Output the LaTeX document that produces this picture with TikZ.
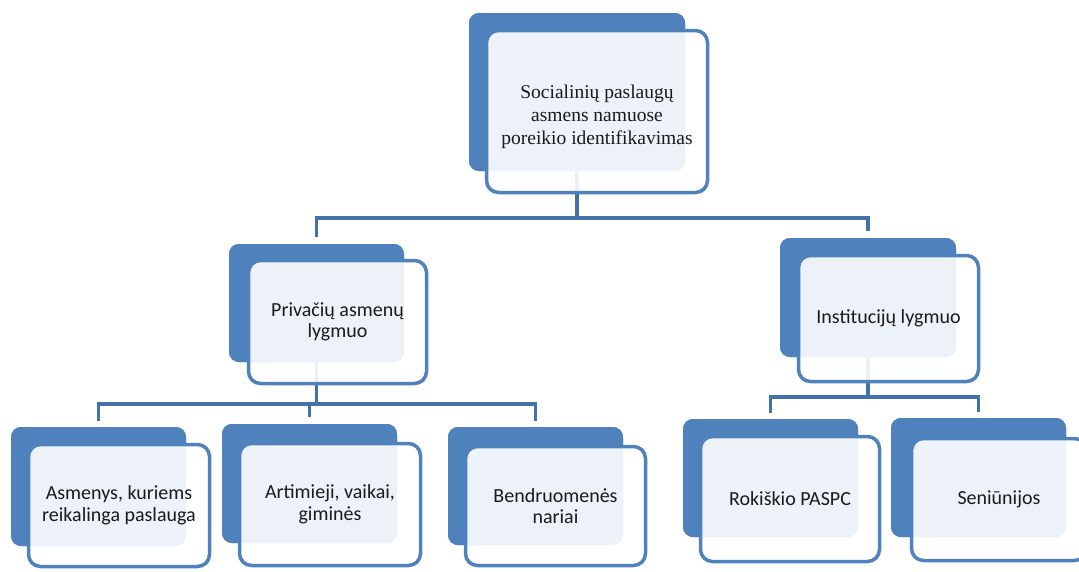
\documentclass[tikz,border=0pt]{standalone}
\usepackage{fontspec}
\setmainfont{Carlito}
\newfontfamily\serifx{Liberation Serif}
\definecolor{accblue}{HTML}{4F81BD}
\definecolor{linkblue}{HTML}{4372A8}
\definecolor{txt}{HTML}{1A1A1A}
\begin{document}
\begin{tikzpicture}[x=1pt,y=-1pt,
  backbox/.style={draw=none,fill=accblue,rounded corners=10pt,inner sep=0pt,outer sep=0pt},
  frontbox/.style={draw=accblue,line width=3.5pt,fill=white,fill opacity=0.9,text opacity=1,rounded corners=12pt,inner sep=0pt,outer sep=0pt,align=center,text=txt,font=\fontsize{20}{21.5}\selectfont},
  link/.style={draw=linkblue,line width=3.5pt}]
\useasboundingbox (0,0) rectangle (1079,571);
\clip (0,0) rectangle (1079,571);
% bus coordinates
\coordinate (busA) at (0,218);
\coordinate (busB) at (0,404);
\coordinate (busC) at (0,397);
% back boxes
\node[backbox,minimum width=216pt,minimum height=158pt] (b0) at (577,92) {};
\node[backbox,minimum width=175pt,minimum height=118pt] (b1) at (316.5,303) {};
\node[backbox,minimum width=176pt,minimum height=119pt] (b2) at (868,297.5) {};
\node[backbox,minimum width=175pt,minimum height=119pt] (b3) at (98.5,486.5) {};
\node[backbox,minimum width=175pt,minimum height=119pt] (b4) at (309.5,483.5) {};
\node[backbox,minimum width=175pt,minimum height=118pt] (b5) at (535.5,486) {};
\node[backbox,minimum width=175pt,minimum height=118pt] (b6) at (770.5,478) {};
\node[backbox,minimum width=175pt,minimum height=119pt] (b7) at (978.5,477.5) {};
% connectors
\draw[link,shorten >=7pt] (b0.south) |- (b0.south |- busA) -| (b1.north);
\draw[link,shorten >=7pt] (b0.south |- busA) -| (b2.north);
\draw[link] (b1.south) -- (b1.south |- busB);
\draw[link,shorten >=6pt] (b1.south |- busB) -| (b3.north);
\draw[link,shorten >=7pt] (b1.south |- busB) -| (b4.north);
\draw[link,shorten >=6pt] (b1.south |- busB) -| (b5.north);
\draw[link] (b2.south) -- (b2.south |- busC);
\draw[link,shorten >=6pt] (b2.south |- busC) -| (b6.north);
\draw[link,shorten >=6pt] (b2.south |- busC) -| (b7.north);
% redraw back boxes over connectors
\foreach \n in {b0,b1,b2,b3,b4,b5,b6,b7}{
  \fill[accblue,rounded corners=10pt] (\n.north west) rectangle (\n.south east);
}
% front boxes
\node[frontbox,minimum width=221pt,minimum height=162pt,font=\serifx\fontsize{19.5}{23}\selectfont] (f0) at (597,111.5) {\rule{0pt}{25pt}Socialinių paslaugų\\asmens namuose\\poreikio identifikavimas};
\node[frontbox,minimum width=178pt,minimum height=123pt] (f1) at (337.5,322) {Privačių asmenų\\lygmuo};
\node[frontbox,minimum width=180pt,minimum height=126pt] (f2) at (888.5,318.5) {Institucijų lygmuo};
\node[frontbox,minimum width=181pt,minimum height=122pt] (f3) at (119,505.5) {Asmenys, kuriems\\reikalinga paslauga};
\node[frontbox,minimum width=181pt,minimum height=122pt] (f4) at (330,504.5) {Artimieji, vaikai,\\giminės};
\node[frontbox,minimum width=180pt,minimum height=119pt] (f5) at (555.5,506) {Bendruomenės\\nariai};
\node[frontbox,minimum width=179pt,minimum height=125pt] (f6) at (790,499) {Rokiškio PASPC};
\node[frontbox,minimum width=175pt,minimum height=122pt] (f7) at (999,499.5) {Seniūnijos};
\end{tikzpicture}
\end{document}
